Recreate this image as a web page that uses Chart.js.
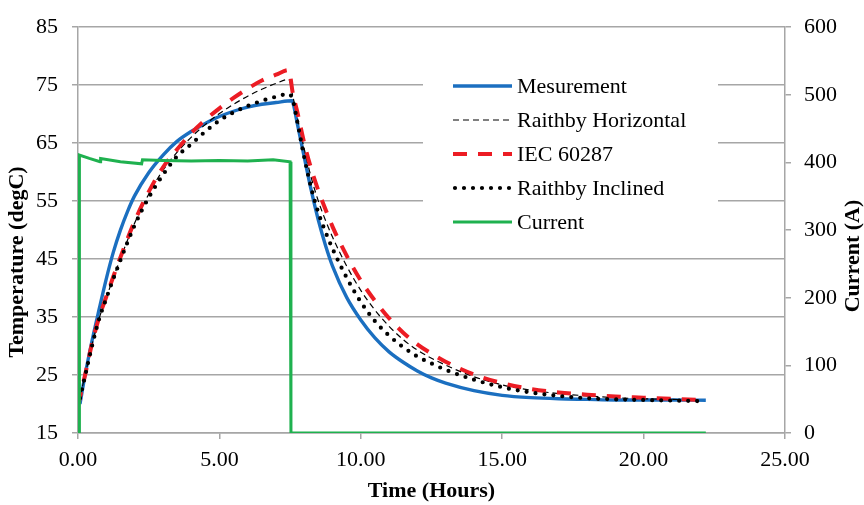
<!DOCTYPE html>
<html>
<head>
<meta charset="utf-8">
<script src="https://cdn.jsdelivr.net/npm/chart.js@4.4.1/dist/chart.umd.min.js"></script>
<style>
  body { margin: 0; background: #fff; }
  canvas { display: block; }
</style>
</head>
<body>
<canvas id="tempChart" width="864" height="505"></canvas>
<script>
// time in hours
const measTime = [0.07, 0.25, 0.5, 0.75, 1, 1.25, 1.5, 1.75, 2, 2.5, 3, 3.5, 4, 4.5, 5, 5.5, 6, 6.5, 7, 7.57,
  7.62, 7.75, 8, 8.25, 8.5, 8.75, 9, 9.5, 10, 10.5, 11, 11.5, 12, 12.5, 13, 14, 15, 16, 17, 18, 19, 20, 21, 22.2]
const measTemp = [20.0, 25.0, 31.0, 36.4, 41.6, 46.2, 50.0, 53.2, 55.9, 59.9, 62.9, 65.3, 67.0, 68.4, 69.6, 70.5, 71.2, 71.7, 72.0, 72.3,
  71.6, 68.5, 62.6, 56.8, 51.7, 47.4, 43.8, 38.4, 34.5, 31.4, 29.0, 27.2, 25.7, 24.5, 23.6, 22.3, 21.5, 21.1, 20.9, 20.8, 20.7, 20.7, 20.7, 20.65]

const modelTime = [0, 0.25, 0.5, 0.75, 1, 1.25, 1.5, 2, 2.5, 3, 3.5, 4, 4.5, 5, 5.5, 6, 6.5, 7, 7.45,
  7.6, 7.75, 8, 8.25, 8.5, 8.75, 9, 9.5, 10, 10.5, 11, 11.5, 12, 12.5, 13, 14, 15, 16, 17, 18, 19, 20, 21, 22]
const raithbyHoriz = [19.7, 25.0, 30.3, 34.8, 38.3, 41.8, 45.1, 51.2, 56.2, 60.3, 63.4, 66.0, 68.2, 70.1, 71.7, 73.1, 74.3, 75.3, 76.0,
  73.0, 69.6, 64.0, 59.0, 55.0, 51.7, 48.8, 43.8, 39.6, 36.2, 33.4, 31.1, 29.3, 27.9, 26.7, 24.7, 23.3, 22.4, 21.8, 21.4, 21.1, 20.9, 20.8, 20.7]
const iec60287 = [19.7, 25.0, 30.5, 35.0, 38.5, 42.0, 45.3, 51.5, 56.6, 60.8, 63.9, 66.7, 69.0, 71.0, 72.8, 74.4, 75.8, 76.8, 77.6,
  73.5, 70.5, 65.0, 60.5, 56.8, 53.6, 50.6, 45.6, 41.3, 37.8, 34.8, 32.3, 30.3, 28.7, 27.3, 25.1, 23.6, 22.6, 22.0, 21.6, 21.3, 21.1, 20.9, 20.7]
const raithbyIncl = [19.5, 24.8, 30.1, 34.7, 38.2, 41.6, 44.8, 50.8, 55.6, 59.5, 62.7, 64.8, 67.0, 68.9, 70.3, 71.4, 72.3, 73.0, 73.5,
  72.4, 68.8, 62.6, 57.2, 53.0, 49.7, 46.8, 41.8, 37.6, 34.3, 31.8, 29.8, 28.2, 27.0, 25.9, 24.2, 22.9, 22.0, 21.4, 21.0, 20.8, 20.7, 20.6, 20.5]

const curTime = [0, 0.04, 0.05, 0.4, 0.78, 0.8, 1.5, 2.25, 2.28, 3, 4, 5, 6, 6.9, 7.5, 7.53, 22.2]
const curAmp  = [0, 0, 411, 406, 401, 406, 401, 398, 404, 403, 402, 403, 402, 404, 401, 0, 0]

const seriesNames = ['Mesurement', 'Raithby Horizontal', 'IEC 60287', 'Raithby Inclined', 'Current']
const xTicks = [0, 5, 10, 15, 20, 25]

const serif = "'Liberation Serif', 'Times New Roman', serif"
const gridGray = '#a6a6a6'

function pts(xs, ys){
	return xs.map((x, i) => ({x: x, y: ys[i]}))
}

// white legend box over the plot + both vertical axis titles
const legendBox = {
	id: 'legendBox',
	afterDatasetsDraw(chart){
		const ctx = chart.ctx
		ctx.save()
		ctx.fillStyle = '#fff'
		ctx.fillRect(423, 58, 295, 182)
		chart.data.datasets.forEach((ds, i) => {
			const y = 86 + i * 34
			ctx.beginPath()
			ctx.strokeStyle = ds.borderColor
			ctx.lineWidth = ds.borderWidth
			ctx.lineCap = ds.borderCapStyle || 'butt'
			ctx.setLineDash(ds.borderDash || [])
			ctx.moveTo(ds.borderCapStyle == 'round' ? 455 : 453, y)
			ctx.lineTo(512, y)
			ctx.stroke()
			ctx.setLineDash([])
			ctx.fillStyle = '#000'
			ctx.font = '22px ' + serif
			ctx.textBaseline = 'middle'
			ctx.textAlign = 'left'
			ctx.fillText(ds.label, 517, y + 1)
		})
		ctx.font = 'bold 22px ' + serif
		ctx.textAlign = 'center'
		ctx.save()
		ctx.translate(17, 262)
		ctx.rotate(-Math.PI / 2)
		ctx.fillText('Temperature (degC)', 0, 0)
		ctx.restore()
		ctx.translate(853, 256)
		ctx.rotate(-Math.PI / 2)
		ctx.fillText('Current (A)', 0, 0)
		ctx.restore()
	}
}

new Chart(document.getElementById('tempChart'), {
	type: 'line',
	data: {
		datasets: [
			{label: seriesNames[0], data: pts(measTime, measTemp), yAxisID: 'y', borderColor: '#1b6fc0', borderWidth: 3.4, order: 5},
			{label: seriesNames[1], data: pts(modelTime, raithbyHoriz), yAxisID: 'y', borderColor: '#000000', borderWidth: 1.2, borderDash: [6, 4], order: 4},
			{label: seriesNames[2], data: pts(modelTime, iec60287), yAxisID: 'y', borderColor: '#ec1c24', borderWidth: 4, borderDash: [14, 11], order: 3},
			{label: seriesNames[3], data: pts(modelTime, raithbyIncl), yAxisID: 'y', borderColor: '#000000', borderWidth: 4.2, borderDash: [0, 9], borderCapStyle: 'round', order: 2},
			{label: seriesNames[4], data: pts(curTime, curAmp), yAxisID: 'y2', borderColor: '#1fb14f', borderWidth: 3, order: 1, cubicInterpolationMode: 'default', tension: 0},
		]
	},
	options: {
		responsive: false,
		animation: false,
		devicePixelRatio: 1,
		layout: {padding: {top: 16, left: 0, right: 0, bottom: 0}},
		elements: {
			point: {radius: 0},
			line: {cubicInterpolationMode: 'monotone', fill: false},
		},
		plugins: {
			legend: {display: false},
			tooltip: {enabled: false},
		},
		scales: {
			x: {
				type: 'linear',
				min: 0, max: 25,
				afterFit: s => { s.height = 72 },
				afterBuildTicks: s => { s.ticks = xTicks.map(v => ({value: v})) },
				grid: {drawOnChartArea: false, drawTicks: true, tickLength: 6, color: gridGray, lineWidth: 1.5},
				border: {color: gridGray, width: 1.5},
				ticks: {color: '#000', font: {family: serif, size: 22}, padding: 8, maxRotation: 0,
					callback: v => v.toFixed(2)},
				title: {display: true, text: 'Time (Hours)', color: '#000', font: {family: serif, size: 22, weight: 'bold'}, padding: {top: 0, bottom: 0}},
			},
			y: {
				position: 'left',
				min: 15, max: 85,
				afterFit: s => { s.width = 78 },
				grid: {color: gridGray, lineWidth: 1.5, tickLength: 6},
				border: {color: gridGray, width: 1.5},
				ticks: {stepSize: 10, color: '#000', font: {family: serif, size: 22}, padding: 14},
			},
			y2: {
				position: 'right',
				min: 0, max: 600,
				afterFit: s => { s.width = 79 },
				grid: {drawOnChartArea: false, color: gridGray, lineWidth: 1.5, tickLength: 6},
				border: {color: gridGray, width: 1.5},
				ticks: {stepSize: 100, color: '#000', font: {family: serif, size: 22}, padding: 13},
			},
		},
	},
	plugins: [legendBox],
})
</script>
</body>
</html>
